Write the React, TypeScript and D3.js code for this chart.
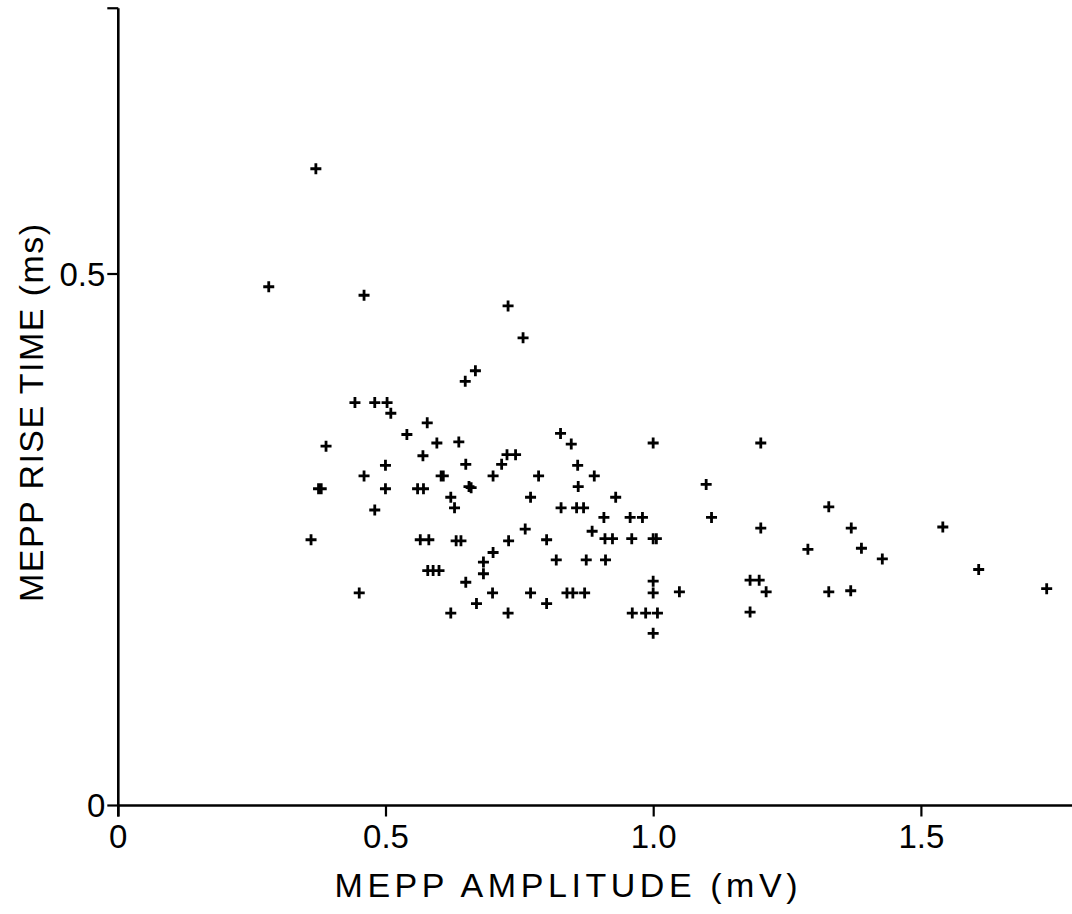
import React from "react";
import * as d3 from "d3";

const amplitude: number[] = [
  0.369, 0.281, 0.459, 0.728, 0.756, 0.667, 0.648, 0.442, 0.479, 0.502,
  0.509, 0.577, 0.539, 0.388, 0.595, 0.636, 0.569, 0.726, 0.742, 0.499,
  0.649, 0.716, 0.459, 0.603, 0.607, 0.700, 0.785, 0.374, 0.379, 0.499,
  0.559, 0.570, 0.655, 0.659, 0.621, 0.628, 0.479, 0.770, 0.360, 0.564,
  0.580, 0.631, 0.640, 0.729, 0.760, 0.700, 0.682, 0.578, 0.588, 0.599,
  0.682, 0.649, 0.450, 0.699, 0.770, 0.669, 0.621, 0.728, 0.826, 0.846,
  0.999, 1.200, 0.858, 0.889, 0.859, 0.929, 1.098, 0.827, 0.856, 0.869,
  0.907, 0.956, 0.979, 1.108, 0.800, 0.885, 0.909, 0.923, 0.959, 0.999,
  1.005, 1.200, 0.818, 0.874, 0.910, 0.838, 0.849, 0.871, 0.999, 0.999,
  1.048, 0.800, 0.960, 0.985, 1.007, 0.999, 1.180, 1.197, 1.210, 1.180,
  1.327, 1.369, 1.388, 1.427, 1.288, 1.540, 1.607, 1.734, 1.327, 1.368,
];

const riseTime: number[] = [
  0.599, 0.488, 0.480, 0.470, 0.440, 0.409, 0.399, 0.379, 0.379, 0.379,
  0.369, 0.360, 0.349, 0.338, 0.341, 0.342, 0.329, 0.330, 0.330, 0.320,
  0.321, 0.321, 0.310, 0.310, 0.310, 0.310, 0.310, 0.298, 0.298, 0.298,
  0.298, 0.298, 0.300, 0.299, 0.290, 0.280, 0.278, 0.290, 0.250, 0.250,
  0.250, 0.249, 0.249, 0.249, 0.260, 0.238, 0.229, 0.221, 0.221, 0.221,
  0.218, 0.210, 0.200, 0.200, 0.200, 0.190, 0.181, 0.181, 0.350, 0.340,
  0.341, 0.341, 0.320, 0.310, 0.300, 0.290, 0.302, 0.280, 0.280, 0.280,
  0.271, 0.271, 0.271, 0.271, 0.250, 0.258, 0.251, 0.251, 0.251, 0.251,
  0.251, 0.261, 0.231, 0.231, 0.231, 0.200, 0.200, 0.200, 0.211, 0.200,
  0.201, 0.190, 0.181, 0.181, 0.181, 0.162, 0.212, 0.212, 0.201, 0.182,
  0.281, 0.261, 0.242, 0.232, 0.241, 0.262, 0.222, 0.204, 0.201, 0.202,
];

const xTicks: number[] = [0, 0.5, 1.0, 1.5];
const xTickLabels: string[] = ["0", "0.5", "1.0", "1.5"];
const yTicks: number[] = [0, 0.5, 0.75];
const yTickLabels: string[] = ["0", "0.5", ""];

const xTitle = "MEPP AMPLITUDE (mV)";
const yTitle = "MEPP RISE TIME (ms)";

const W = 1072;
const H = 914;
const FONT = "'Liberation Sans', Arial, Helvetica, sans-serif";

export default function App() {
  const x0 = 118.3;
  const xUnit = 535.4;
  const y0 = 805.5;
  const yUnit = 1063;
  const x = d3.scaleLinear().domain([0, 1.8]).range([x0, x0 + xUnit * 1.8]);
  const y = d3.scaleLinear().domain([0, 0.75]).range([y0, y0 - yUnit * 0.75]);

  const pts = amplitude.map((a, i) => [x(a), y(riseTime[i])]);
  const plusPath = pts
    .map(([px, py]) => `M${px - 5.5},${py}h11M${px},${py - 5.5}v11`)
    .join("");

  return (
    <svg
      width={W}
      height={H}
      style={{ position: "absolute", left: 0, top: 0, background: "#fff" }}
      fontFamily={FONT}
    >
      <rect x={0} y={0} width={W} height={H} fill="#fff" />
      {/* y axis */}
      <line x1={x(0)} x2={x(0)} y1={y(0.75)} y2={y(0) + 11} stroke="#000" strokeWidth={2.6} />
      {yTicks.map((t, i) => (
        <g key={"yt" + i}>
          <line x1={x(0) - 11} x2={x(0)} y1={y(t)} y2={y(t)} stroke="#000" strokeWidth={2.2} />
          {yTickLabels[i] && (
            <text
              x={x(0) - 13}
              y={y(t)}
              dy="0.36em"
              textAnchor="end"
              fontSize={33}
              fill="#000"
            >
              {yTickLabels[i]}
            </text>
          )}
        </g>
      ))}
      {/* x axis */}
      <line x1={x(0)} x2={W} y1={y(0)} y2={y(0)} stroke="#000" strokeWidth={2.6} />
      {xTicks.map((t, i) => (
        <g key={"xt" + i}>
          <line x1={x(t)} x2={x(t)} y1={y(0)} y2={y(0) + 11} stroke="#000" strokeWidth={2.2} />
          <text x={x(t)} y={848} textAnchor="middle" fontSize={33} fill="#000">
            {xTickLabels[i]}
          </text>
        </g>
      ))}
      {/* titles */}
      <text
        x={566}
        y={897}
        textAnchor="middle"
        fontSize={34}
        textLength={463}
        lengthAdjust="spacing"
        fill="#000"
      >
        {xTitle}
      </text>
      <text
        transform={`translate(43,413) rotate(-90)`}
        textAnchor="middle"
        fontSize={34}
        textLength={378}
        lengthAdjust="spacing"
        fill="#000"
      >
        {yTitle}
      </text>
      {/* points */}
      <path d={plusPath} stroke="#000" strokeWidth={2.8} fill="none" />
    </svg>
  );
}
